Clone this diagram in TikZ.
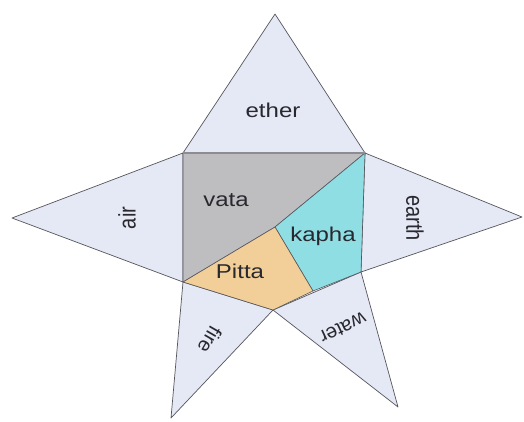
\documentclass[tikz,border=0pt]{standalone}
\usepackage{fontspec}
\setmainfont{Liberation Sans}
\usepackage{tikz}
\usetikzlibrary{positioning, calc}
\usepackage{xcolor}
\definecolor{petal}{RGB}{229,233,245}
\definecolor{vatagray}{RGB}{190,190,193}
\definecolor{kaphacyan}{RGB}{142,222,228}
\definecolor{pittasand}{RGB}{242,207,152}
\definecolor{rim}{RGB}{85,85,92}
\definecolor{ink}{RGB}{40,40,46}
\tikzset{
    petal/.style={
        fill=petal,
        draw=rim,
        line width=0.7pt,
        line join=round
    },
    dosha/.style={
        draw=rim,
        line width=0.6pt,
        line join=round
    },
    lbl/.style={
        text=ink,
        font=\fontsize{20}{22}\selectfont,
        inner sep=0pt
    }
}

\begin{document}
\begin{tikzpicture}[x=1pt, y=-1pt]

      \useasboundingbox (0,0) rectangle (524,421);

      % inner pentagon
      \coordinate (TL) at (183,153);
      \coordinate (TR) at (365,153);
      \coordinate (BR) at (361,272);
      \coordinate (BM) at (273,310);
      \coordinate (BL) at (183,282);
      % star points
      \coordinate (Top) at (275,14);
      \coordinate (Left) at (12,218);
      \coordinate (Right) at (522,217);
      \coordinate (LowL) at (171,418);
      \coordinate (LowR) at (398,407);
      % inner splits
      \coordinate (Mid) at (275,227);
      \coordinate (Cut) at (313,291);

      \draw[petal] (TL)--(Top)--(TR)--cycle;
      \draw[petal] (TL)--(Left)--(BL)--cycle;
      \draw[petal] (TR)--(Right)--(BR)--cycle;
      \draw[petal] (BL)--(LowL)--(BM)--cycle;
      \draw[petal] (BM)--(LowR)--(BR)--cycle;

      \draw[dosha, fill=vatagray] (TL)--(TR)--(Mid)--(BL)--cycle;
      \draw[dosha, fill=kaphacyan] (TR)--(BR)--(Cut)--(Mid)--cycle;
      \draw[dosha, fill=pittasand] (Mid)--(Cut)--(BM)--(BL)--cycle;
      \draw[draw={rgb,255:red,140;green,140;blue,146}, line width=1.6pt] (TL)--(TR);

      \node[lbl, xscale=1.2] (ether) at (273,110) {ether};
      \node[lbl, xscale=1.2] (vata) at (226,200) {vata};
      \node[lbl, xscale=1.2] (kapha) at (323,236) {kapha};
      \node[lbl, xscale=1.2] (pitta) at (240,271) {Pitta};
      \node[lbl, xscale=1.2, rotate=90] (air) at (127,218) {air};
      \node[lbl, xscale=1.2, rotate=-90] (earth) at (415,218) {earth};
      \node[lbl, rotate=-120] (fire) at (210,340) {fire};
      \node[lbl, rotate=-155] (water) at (343,328) {water};

    \end{tikzpicture}
\end{document}
